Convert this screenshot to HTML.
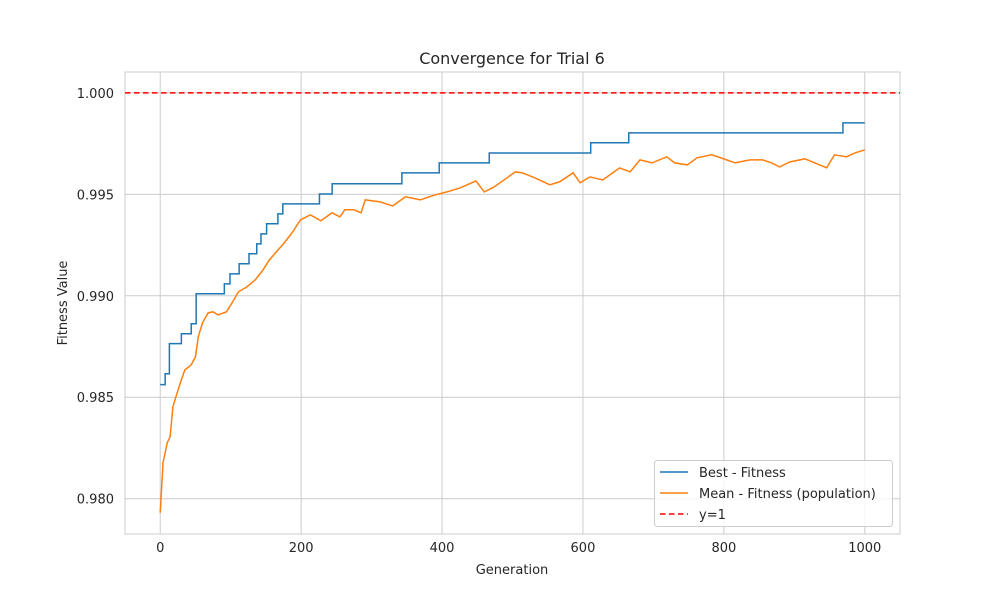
<!DOCTYPE html>
<html><head><meta charset="utf-8"><style>
body{margin:0;background:#fff;}
svg{display:block;font-family:"DejaVu Sans","Liberation Sans",sans-serif;}
</style></head><body>
<svg id="chart" width="1000" height="600" viewBox="0 0 1000 600">
<rect width="1000" height="600" fill="#fff"/>
<g id="grid"></g>
<rect x="125" y="72" width="775" height="462" fill="none" stroke="#cccccc" stroke-width="1"/>
<g id="ticks"></g>
<line id="refline" stroke="#ff0000" stroke-width="1.5" stroke-dasharray="5.5,3.5"/>
<path id="mean" fill="none" stroke="#ff7f0e" stroke-width="1.5"/>
<path id="best" fill="none" stroke="#1f77b4" stroke-width="1.5"/>
<text x="512" y="64" text-anchor="middle" font-size="16" fill="#262626">Convergence for Trial 6</text>
<text x="512" y="574" text-anchor="middle" font-size="13" fill="#262626">Generation</text>
<text transform="translate(67,303) rotate(-90)" text-anchor="middle" font-size="13" fill="#262626">Fitness Value</text>
<g>
<rect x="654.5" y="460.5" width="238" height="66" rx="3" fill="#fff" fill-opacity="0.8" stroke="#cccccc"/>
<line x1="660" y1="472" x2="688" y2="472" stroke="#1f77b4" stroke-width="1.5"/>
<text x="699" y="477" font-size="13" fill="#262626">Best - Fitness</text>
<line x1="660" y1="493" x2="688" y2="493" stroke="#ff7f0e" stroke-width="1.5"/>
<text x="699" y="498" font-size="13" fill="#262626">Mean - Fitness (population)</text>
<line x1="660" y1="514" x2="688" y2="514" stroke="#ff0000" stroke-width="1.5" stroke-dasharray="5.5,3.5"/>
<text x="699" y="519" font-size="13" fill="#262626">y=1</text>
</g>
</svg>
<script>
const xTicks=[0,200,400,600,800,1000];
const yTicks=[0.980,0.985,0.990,0.995,1.000];
const yTickLabels=["0.980","0.985","0.990","0.995","1.000"];
const bestGen=[0,7,13,30,44,51,91,99,112,126,137,143,151,167,174,226,244,343,396,467,611,665,969,1000];
const bestVal=[0.98562,0.98616,0.98764,0.98813,0.98862,0.99010,0.99059,0.99108,0.99158,0.99207,0.99256,0.99305,0.99355,0.99404,0.99453,0.99502,0.99552,0.99606,0.99655,0.99704,0.99754,0.99803,0.99852,0.99852];
const meanGen=[0,4,10,14,18,24,30,35,44,50,54,60,68,75,82,94,102,111,123,135,146,155,165,176,187,199,213,228,244,255,262,275,285,291,312,330,348,369,390,407,426,448,460,474,488,504,514,532,553,567,586,596,610,628,652,667,681,698,719,730,748,762,783,804,816,837,855,868,879,894,915,936,946,957,974,986,1000];
const meanVal=[0.97931,0.98177,0.98276,0.98305,0.98453,0.98522,0.98586,0.98635,0.9866,0.98699,0.98798,0.98867,0.98916,0.98921,0.98906,0.98921,0.98965,0.9902,0.99044,0.99079,0.99128,0.99177,0.99217,0.99261,0.9931,0.99374,0.99399,0.9937,0.99409,0.99389,0.99424,0.99424,0.99409,0.99473,0.99463,0.99443,0.99488,0.99473,0.99497,0.99512,0.99532,0.99566,0.99512,0.99537,0.99571,0.99611,0.99606,0.99581,0.99547,0.99562,0.99606,0.99557,0.99586,0.99571,0.9963,0.99611,0.9967,0.99655,0.99685,0.99655,0.99645,0.9968,0.99695,0.9967,0.99655,0.9967,0.9967,0.99655,0.99635,0.9966,0.99675,0.99645,0.99631,0.99695,0.99685,0.99704,0.99719];
const X0=125,X1=900,Y0=534,Y1=72,xmin=-50,xmax=1050,ymin=0.97826,ymax=1.00103;
const sx=g=>X0+(g-xmin)/(xmax-xmin)*(X1-X0);
const sy=v=>Y0-(v-ymin)/(ymax-ymin)*(Y0-Y1);
const NS="http://www.w3.org/2000/svg";
const grid=document.getElementById('grid'),ticks=document.getElementById('ticks');
xTicks.forEach(t=>{
  const l=document.createElementNS(NS,'line');
  l.setAttribute('x1',sx(t));l.setAttribute('x2',sx(t));l.setAttribute('y1',Y1);l.setAttribute('y2',Y0);
  l.setAttribute('stroke','#cccccc');
  
  
  grid.appendChild(l);
  const tx=document.createElementNS(NS,'text');
  tx.setAttribute('x',sx(t));tx.setAttribute('y',Y0+18);tx.setAttribute('text-anchor','middle');
  tx.setAttribute('font-size','13');tx.setAttribute('fill','#262626');tx.textContent=t;
  
  
  ticks.appendChild(tx);
});
yTicks.forEach((t,i)=>{
  const l=document.createElementNS(NS,'line');
  l.setAttribute('x1',X0);l.setAttribute('x2',X1);l.setAttribute('y1',sy(t));l.setAttribute('y2',sy(t));
  l.setAttribute('stroke','#cccccc');
  
  
  grid.appendChild(l);
  const tx=document.createElementNS(NS,'text');
  tx.setAttribute('x',X0-11);tx.setAttribute('y',sy(t)+5);tx.setAttribute('text-anchor','end');
  tx.setAttribute('font-size','13');tx.setAttribute('fill','#262626');tx.textContent=yTickLabels[i];
  
  
  ticks.appendChild(tx);
});
const r=document.getElementById('refline');
r.setAttribute('x1',X0);r.setAttribute('x2',X1);r.setAttribute('y1',sy(1));r.setAttribute('y2',sy(1));
let d='';
bestGen.forEach((g,i)=>{
  if(i===0)d+='M'+sx(g)+','+sy(bestVal[i]);
  else d+=' L'+sx(g)+','+sy(bestVal[i-1])+' L'+sx(g)+','+sy(bestVal[i]);
});
document.getElementById('best').setAttribute('d',d);
document.getElementById('mean').setAttribute('d',meanGen.map((g,i)=>(i?'L':'M')+sx(g)+','+sy(meanVal[i])).join(' '));
</script>
</body></html>
